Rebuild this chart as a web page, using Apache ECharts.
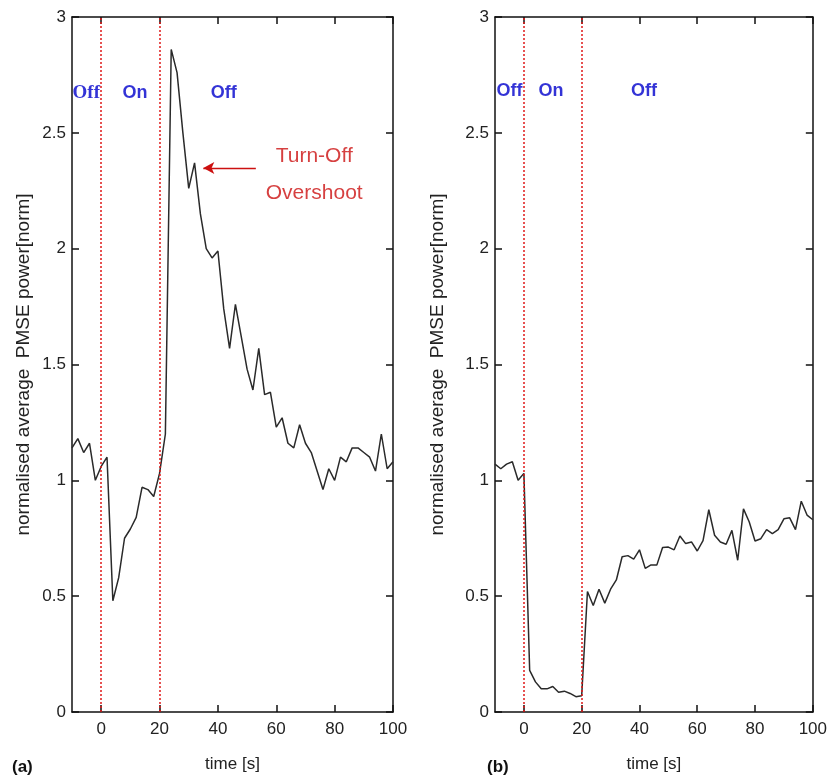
<!DOCTYPE html>
<html>
<head>
<meta charset="utf-8">
<script src="https://cdn.jsdelivr.net/npm/echarts@6/dist/echarts.min.js"></script>
<style>
html,body{margin:0;padding:0;background:#fff;}
#chart{width:830px;height:778px;}
</style>
</head>
<body>
<div id="chart"></div>
<script>
// ---- data ----
const times = [-10,-8,-6,-4,-2,0,2,4,6,8,10,12,14,16,18,20,22,24,26,28,30,32,34,36,38,40,42,44,46,48,50,52,54,56,58,60,62,64,66,68,70,72,74,76,78,80,82,84,86,88,90,92,94,96,98,100];
const powerA = [1.14,1.18,1.12,1.16,1.00,1.06,1.10,0.48,0.58,0.75,0.79,0.84,0.97,0.96,0.93,1.03,1.20,2.86,2.76,2.50,2.26,2.37,2.15,2.00,1.96,1.99,1.74,1.57,1.76,1.62,1.48,1.39,1.57,1.37,1.38,1.23,1.27,1.16,1.14,1.24,1.16,1.12,1.04,0.96,1.05,1.00,1.10,1.08,1.14,1.14,1.12,1.10,1.04,1.20,1.05,1.08];
const powerB = [1.07,1.05,1.07,1.08,1.00,1.03,0.18,0.13,0.10,0.10,0.11,0.085,0.09,0.08,0.066,0.07,0.52,0.46,0.53,0.47,0.53,0.57,0.67,0.675,0.66,0.70,0.62,0.635,0.634,0.71,0.712,0.70,0.76,0.727,0.734,0.695,0.74,0.873,0.763,0.734,0.724,0.784,0.655,0.877,0.82,0.738,0.748,0.787,0.77,0.787,0.834,0.838,0.787,0.91,0.85,0.83];
const xTicks = [0,20,40,60,80,100];
const switchTimes = [0,20];
const phaseNames = ['Off','On','Off'];
const phaseXA = [-5.1,11.6,42];
const phaseYA = 2.67;
const phaseXB = [-5,9.4,41.6];
const phaseYB = 2.68;
const yTitle = 'normalised average  PMSE power[norm]';
const xTitle = 'time [s]';
const noteText = 'Turn-Off\nOvershoot';
const noteX = 73, noteY = 2.318;
const arrowFrom = [53,2.348], arrowTo = [35,2.348];

const FONT = 'Liberation Sans, Arial, sans-serif';
const pairs = vals => times.map((t,i)=>[t, vals[i]]);

const grids = [
  {left:72, top:17, width:321, height:699},
  {left:495, top:17, width:320, height:699}
];

const xAxes = [], yAxes = [];
const nameGaps = [39, 48];
grids.forEach((g,i)=>{
  xAxes.push({
    type:'value', gridIndex:i, position:'bottom', min:-10, max:100,
    axisLine:{onZero:false, lineStyle:{color:'#111', width:1.5}},
    axisTick:{inside:true, length:7, customValues:xTicks, lineStyle:{color:'#111', width:1.5}},
    axisLabel:{customValues:xTicks, margin:9, color:'#222', fontSize:17, fontFamily:FONT},
    splitLine:{show:false},
    name:xTitle, nameLocation:'middle', nameGap:44,
    nameTextStyle:{color:'#222', fontSize:17, fontFamily:FONT, verticalAlign:'top'}
  });
  xAxes.push({
    type:'value', gridIndex:i, position:'top', min:-10, max:100,
    axisLine:{onZero:false, lineStyle:{color:'#111', width:1.5}},
    axisTick:{inside:true, length:7, customValues:xTicks, lineStyle:{color:'#111', width:1.5}},
    axisLabel:{show:false}, splitLine:{show:false}
  });
  yAxes.push({
    type:'value', gridIndex:i, position:'left', min:0, max:3, interval:0.5,
    axisLine:{show:true, onZero:false, lineStyle:{color:'#111', width:1.5}},
    axisTick:{show:true, inside:true, length:7, lineStyle:{color:'#111', width:1.5}},
    axisLabel:{margin:6, color:'#222', fontSize:17, fontFamily:FONT},
    splitLine:{show:false},
    name:yTitle, nameLocation:'middle', nameGap:nameGaps[i], nameRotate:90,
    nameTextStyle:{color:'#222', fontSize:19, fontFamily:FONT}
  });
  yAxes.push({
    type:'value', gridIndex:i, position:'right', min:0, max:3, interval:0.5,
    axisLine:{show:true, onZero:false, lineStyle:{color:'#111', width:1.5}},
    axisTick:{show:true, inside:true, length:7, lineStyle:{color:'#111', width:1.5}},
    axisLabel:{show:false}, splitLine:{show:false}
  });
});

function dataSeries(vals, gi){
  return {
    type:'line', xAxisIndex:gi*2, yAxisIndex:gi*2, data:pairs(vals),
    showSymbol:false, symbol:'none', z:3,
    lineStyle:{color:'#2a2a2a', width:1.5},
    markLine:{
      silent:true, symbol:['none','none'], label:{show:false},
      lineStyle:{color:'#e01818', type:[2,2], width:1.5},
      data: switchTimes.map(t=>({xAxis:t}))
    }
  };
}

function phaseSeries(xs, y, gi){
  return {
    type:'scatter', xAxisIndex:gi*2, yAxisIndex:gi*2, symbolSize:0, z:4,
    data: xs.map((x,k)=>({value:[x,y], name:phaseNames[k],
      label:{fontFamily: (gi===0 && k===0) ? 'Liberation Serif, Times New Roman, serif' : FONT,
             fontSize: (gi===0 && k===0) ? 19 : 18}})),
    label:{show:true, position:'inside', formatter:p=>p.name, color:'#0000cc', fontWeight:'bold'},
    silent:true
  };
}

const series = [
  dataSeries(powerA,0),
  dataSeries(powerB,1),
  phaseSeries(phaseXA, phaseYA, 0),
  phaseSeries(phaseXB, phaseYB, 1),
  {
    type:'scatter', xAxisIndex:0, yAxisIndex:0, symbolSize:0, silent:true, z:5,
    data:[{value:[noteX,noteY], name:noteText}],
    label:{show:true, position:'inside', formatter:p=>p.name, color:'#cc1010',
           fontSize:21, lineHeight:37, fontFamily:FONT},
    markLine:{
      silent:true, symbol:['none','arrow'], symbolSize:[9,11], label:{show:false},
      lineStyle:{color:'#cc1010', type:'solid', width:1.3},
      data:[[{coord:arrowFrom},{coord:arrowTo}]]
    }
  }
];

const chart = echarts.init(document.getElementById('chart'), null, {renderer:'canvas'});
chart.setOption({
  animation:false,
  backgroundColor:'#fff',
  grid:grids,
  xAxis:xAxes,
  yAxis:yAxes,
  series:series,
  graphic:[
    {type:'text', left:12, top:759, style:{text:'(a)', fontSize:17, fontWeight:'bold', fontFamily:FONT, fill:'#111'}},
    {type:'text', left:487, top:759, style:{text:'(b)', fontSize:17, fontWeight:'bold', fontFamily:FONT, fill:'#111'}}
  ]
});
</script>
</body>
</html>
